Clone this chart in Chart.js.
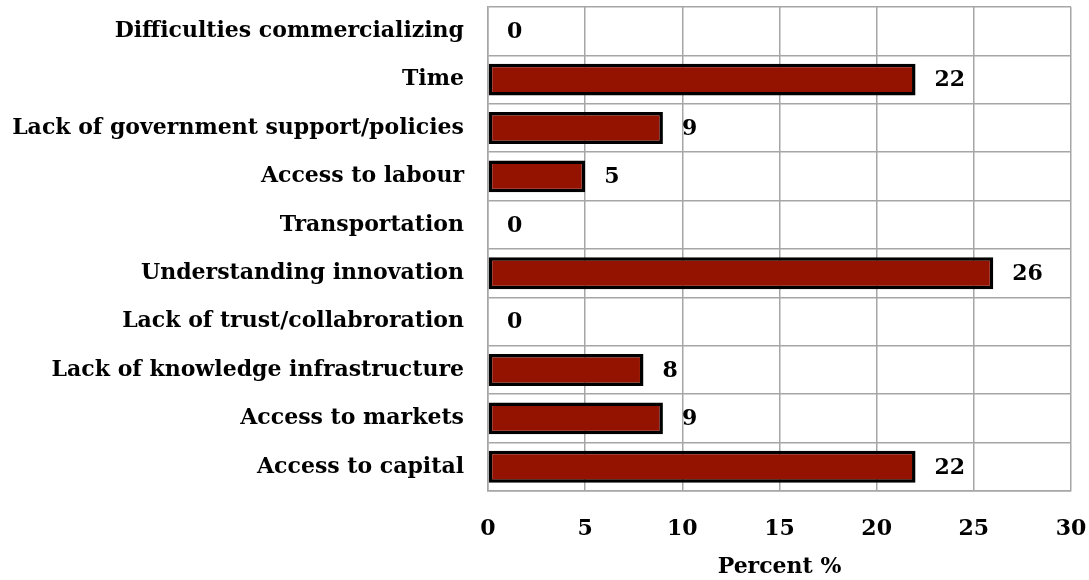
<!DOCTYPE html>
<html>
<head>
<meta charset="utf-8">
<script src="https://cdn.jsdelivr.net/npm/chart.js@4/dist/chart.umd.min.js"></script>
<style>
html,body{margin:0;padding:0;background:#fff;}
#wrap{width:1089px;height:580px;position:relative;}
</style>
</head>
<body>
<div id="wrap"><canvas id="c" width="1089" height="580"></canvas></div>
<script>
const categories = [
  "Difficulties commercializing",
  "Time",
  "Lack of government support/policies",
  "Access to labour",
  "Transportation",
  "Understanding innovation",
  "Lack of trust/collabroration",
  "Lack of knowledge infrastructure",
  "Access to markets",
  "Access to capital"
];
const percentValues = [0, 22, 9, 5, 0, 26, 0, 8, 9, 22];
const xTickValues = [0, 5, 10, 15, 20, 25, 30];
const axisTitle = "Percent %";

const FONT_FAMILY = "'DejaVu Serif', 'Liberation Serif', serif";
const FONT_SIZE = 22;

const valueLabels = {
  id: 'valueLabels',
  afterDatasetsDraw(chart) {
    const ctx = chart.ctx;
    const meta = chart.getDatasetMeta(0);
    ctx.save();
    ctx.font = `bold ${FONT_SIZE}px ${FONT_FAMILY}`;
    ctx.fillStyle = '#000';
    ctx.textAlign = 'left';
    ctx.textBaseline = 'middle';
    meta.data.forEach((bar, i) => {
      ctx.fillText(String(percentValues[i]), bar.x + 19, bar.y + 1);
    });
    ctx.restore();
  }
};

new Chart(document.getElementById('c'), {
  type: 'bar',
  data: {
    labels: categories,
    datasets: [{
      data: percentValues,
      backgroundColor: '#931300',
      borderColor: '#000000',
      borderWidth: 3.5,
      borderSkipped: false,
      barPercentage: 0.66,
      categoryPercentage: 1.0
    }]
  },
  options: {
    indexAxis: 'y',
    responsive: false,
    animation: false,
    devicePixelRatio: 1,
    layout: { padding: { left: 0, right: 18, top: 7, bottom: 0 } },
    plugins: {
      legend: { display: false },
      tooltip: { enabled: false }
    },
    scales: {
      x: {
        min: 0,
        max: 30,
        afterBuildTicks(scale) { scale.ticks = xTickValues.map(v => ({ value: v })); },
        afterFit(scale) { scale.height = 89; scale.paddingLeft = 0; scale.paddingRight = 0; },
        grid: { color: '#a6a6a6', lineWidth: 1.5, drawTicks: false },
        border: { color: '#a6a6a6', width: 1.5 },
        ticks: {
          color: '#000',
          padding: 25,
          maxRotation: 0,
          font: { family: FONT_FAMILY, size: FONT_SIZE, weight: 'bold' }
        },
        title: {
          display: true,
          text: axisTitle,
          color: '#000',
          padding: { top: 6, bottom: 0 },
          font: { family: FONT_FAMILY, size: FONT_SIZE, weight: 'bold' }
        }
      },
      y: {
        afterFit(scale) { scale.width = 488; scale.paddingTop = 0; scale.paddingBottom = 0; },
        grid: { color: '#a6a6a6', lineWidth: 1.5, drawTicks: false, offset: true },
        border: { color: '#a6a6a6', width: 1.5 },
        ticks: {
          color: '#000',
          padding: 24,
          autoSkip: false,
          font: { family: FONT_FAMILY, size: FONT_SIZE, weight: 'bold' }
        }
      }
    }
  },
  plugins: [valueLabels]
});
</script>
</body>
</html>
